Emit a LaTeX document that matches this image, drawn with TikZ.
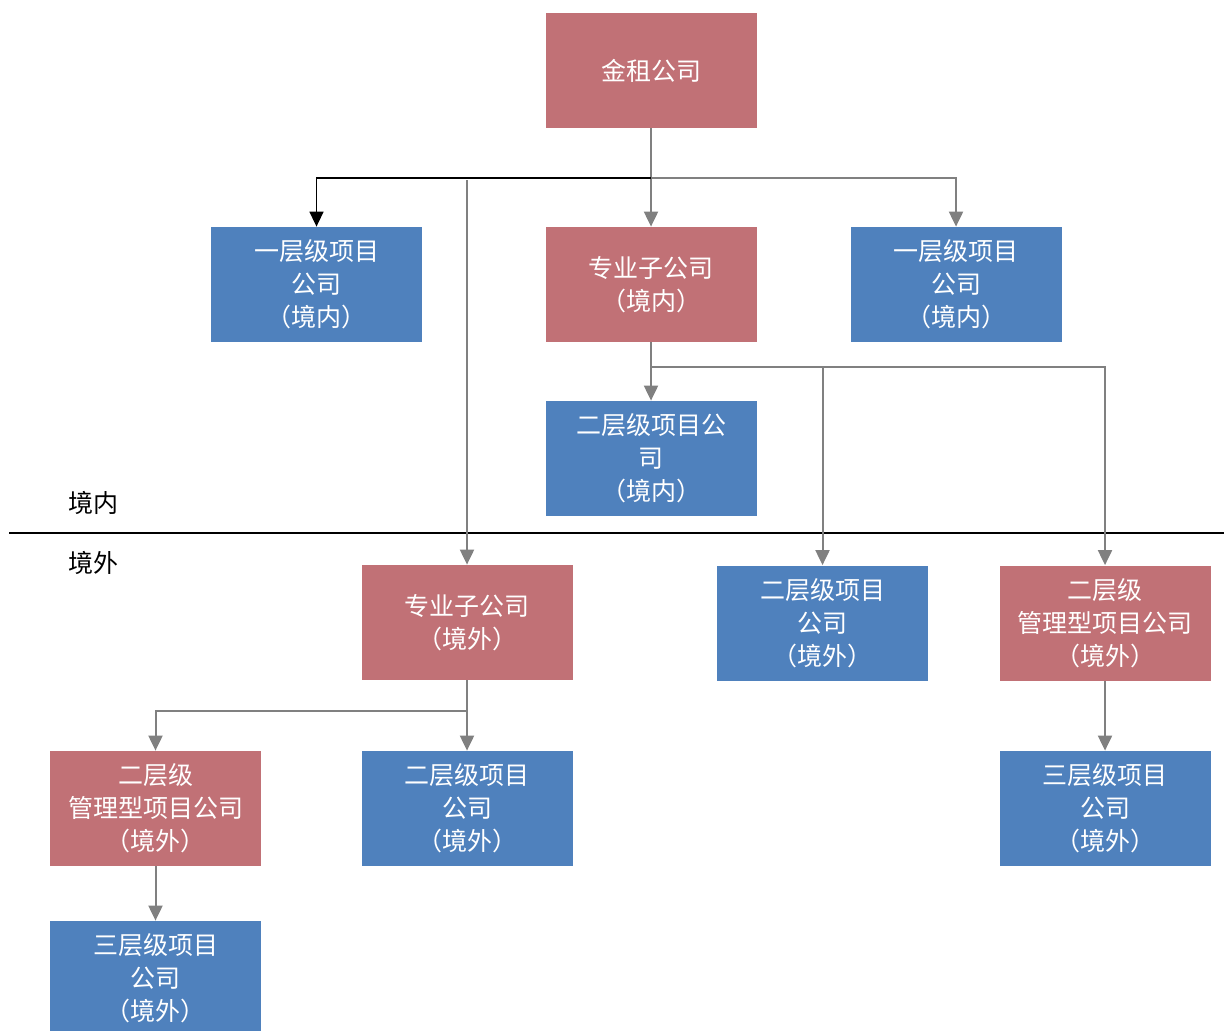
\documentclass[tikz,border=0pt]{standalone}
\usepackage{fontspec}
\setmainfont{Noto Sans CJK SC}
\usetikzlibrary{arrows.meta}
\definecolor{boxred}{RGB}{193,113,118}
\definecolor{boxblue}{RGB}{79,129,189}
\definecolor{linegray}{RGB}{128,128,128}
\tikzset{
  redbox/.style={fill=boxred, text=white, minimum width=105.5pt, minimum height=57.5pt, align=center, font=\fontsize{12.5}{16.5}\selectfont, inner sep=1pt},
  bluebox/.style={redbox, fill=boxblue},
  arr/.style={draw=linegray, line width=1pt, -{Triangle[length=7.5pt,width=7pt]}},
  blackarr/.style={draw=black, line width=0.8pt, -{Triangle[length=7.5pt,width=7pt]}}
}
\begin{document}
\begin{tikzpicture}[x=0.5pt,y=-0.5pt]
    \useasboundingbox (0,0) rectangle (1224,1030);
    \clip (0,0) rectangle (1224,1030);

    % Draw the boxes
    \node[redbox] (top) at (651,70.5) {金租公司};
    \node[bluebox] (inA) at (316.5,284.5) {一层级项目\\公司\\（境内）};
    \node[redbox] (zyn) at (651,284.5) {专业子公司\\（境内）};
    \node[bluebox] (inB) at (956,284.5) {一层级项目\\公司\\（境内）};
    \node[bluebox] (exn) at (651,458.5) {二层级项目公\\司\\（境内）};
    \node[redbox] (zyw) at (467,622.5) {专业子公司\\（境外）};
    \node[bluebox] (exw) at (822.5,623) {二层级项目\\公司\\（境外）};
    \node[redbox] (mgR) at (1105,623) {二层级\\管理型项目公司\\（境外）};
    \node[bluebox] (thR) at (1105,808.5) {三层级项目\\公司\\（境外）};
    \node[redbox] (mgL) at (155.5,808.5) {二层级\\管理型项目公司\\（境外）};
    \node[bluebox] (exw2) at (467,808.5) {二层级项目\\公司\\（境外）};
    \node[bluebox] (thL) at (155.5,978.5) {三层级项目\\公司\\（境外）};

    % Draw the border between inside and outside
    \draw[line width=0.7pt] (9,533) -- (1224,533);
    \node[font=\fontsize{12.5}{14}\selectfont] (nei) at (93,503) {境内};
    \node[font=\fontsize{12.5}{14}\selectfont] (wai) at (93,563) {境外};

    % Draw the first level connectors
    \coordinate (s1) at (651,178);
    \coordinate (j1) at (467,180);
    \draw[arr] (top.south) -- (zyn.north);
    \draw[arr] (s1) -| (inB.north);
    \draw[blackarr] (s1) -| (inA.north);
    \draw[arr] (j1) -- (zyw.north);

    % Draw the connectors under the inside subsidiary
    \coordinate (s2) at (651,367);
    \draw[arr] (zyn.south) -- (exn.north);
    \draw[arr] (s2) -| (exw.north);
    \draw[arr] (s2) -| (mgR.north);

    % Draw the connectors under the outside subsidiary
    \coordinate (s3) at (467,711);
    \draw[arr] (zyw.south) -- (exw2.north);
    \draw[arr] (s3) -| (mgL.north);
    \draw[arr] (mgR.south) -- (thR.north);
    \draw[arr] (mgL.south) -- (thL.north);
\end{tikzpicture}
\end{document}
